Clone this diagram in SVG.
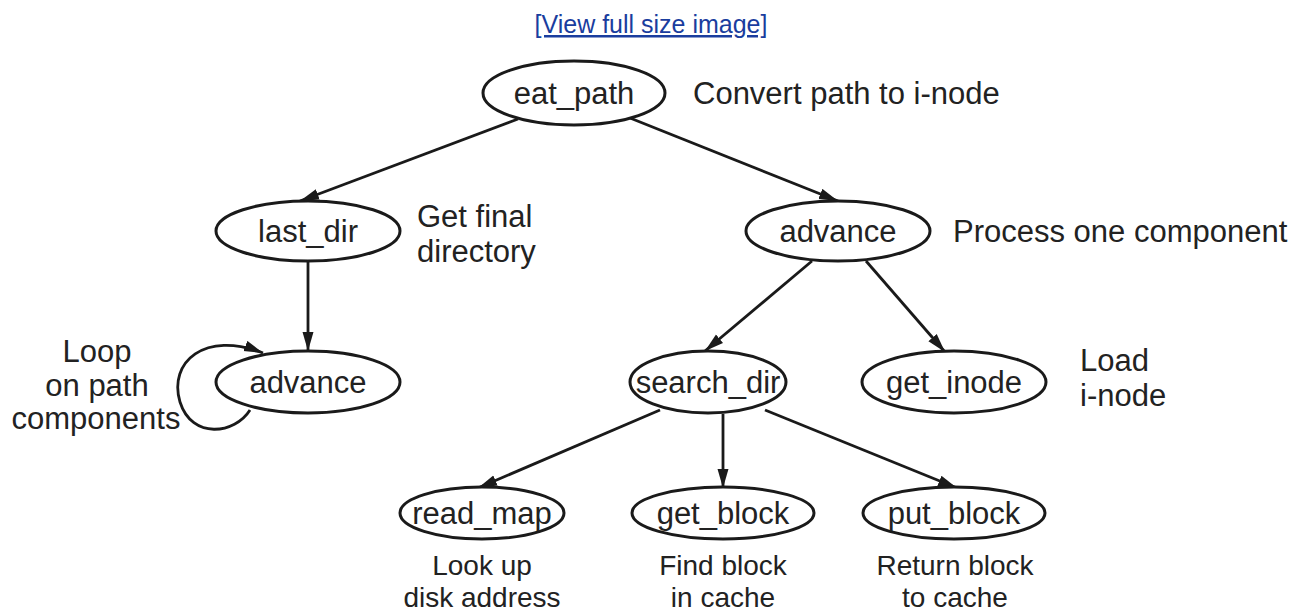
<svg xmlns="http://www.w3.org/2000/svg" width="1293" height="614" viewBox="0 0 1293 614">
  <defs>
    <marker id="arr" markerUnits="userSpaceOnUse" markerWidth="20" markerHeight="12" refX="19" refY="6" orient="auto">
      <path d="M0,0.5 L19,6 L0,11.5 z" fill="#1a1a1a"/>
    </marker>
    <style>
      .n ellipse { fill: #fff; stroke: #1a1a1a; stroke-width: 3; }
      text { font-family: "Liberation Sans", Arial, sans-serif; font-size: 31px; fill: #222; }
      .c { text-anchor: middle; }
      .s { font-size: 28px; }
      .e { fill: none; stroke: #1a1a1a; stroke-width: 2.8; marker-end: url(#arr); }
      .link { font-size: 25px; fill: #1a3d9e; text-decoration: underline; }
    </style>
  </defs>
  <rect width="1293" height="614" fill="#fff"/>
  <text class="link c" x="651" y="33">[View full size image]</text>

  <g id="connectors">
    <path class="e" d="M518,119 L300,201"/>
    <path class="e" d="M630,118 L838,201"/>
    <path class="e" d="M308,262 L308,351"/>
    <path class="e" d="M250,410 C235,434 192,440 180,402 C168,362 205,330 263,353"/>
    <path class="e" d="M812,261 L705,351"/>
    <path class="e" d="M866,261 L945,352"/>
    <path class="e" d="M660,410 L478,488"/>
    <path class="e" d="M723,414 L723,488"/>
    <path class="e" d="M765,410 L957,488"/>
  </g>

  <g id="eat_path" class="n">
    <ellipse cx="574" cy="93" rx="91" ry="32"/>
    <text class="c" x="574" y="104">eat_path</text>
  </g>
  <text x="693" y="104">Convert path to i-node</text>

  <g id="last_dir" class="n">
    <ellipse cx="308" cy="231" rx="92" ry="30"/>
    <text class="c" x="308" y="242">last_dir</text>
  </g>
  <text x="417" y="227">Get final</text>
  <text x="417" y="262">directory</text>

  <g id="advance_right" class="n">
    <ellipse cx="838" cy="231" rx="92" ry="30"/>
    <text class="c" x="838" y="242">advance</text>
  </g>
  <text x="953" y="242">Process one component</text>

  <g id="advance_left" class="n">
    <ellipse cx="308" cy="382" rx="92" ry="31"/>
    <text class="c" x="308" y="393">advance</text>
  </g>
  <text class="c" x="97" y="362">Loop</text>
  <text class="c" x="97" y="396">on path</text>
  <text class="c" x="96" y="429">components</text>

  <g id="search_dir" class="n">
    <ellipse cx="708" cy="382" rx="78" ry="31"/>
    <text class="c" x="708" y="393">search_dir</text>
  </g>

  <g id="get_inode" class="n">
    <ellipse cx="954" cy="382" rx="92" ry="31"/>
    <text class="c" x="954" y="393">get_inode</text>
  </g>
  <text x="1080" y="371">Load</text>
  <text x="1080" y="406">i-node</text>

  <g id="read_map" class="n">
    <ellipse cx="482" cy="513" rx="82" ry="26"/>
    <text class="c" x="482" y="524">read_map</text>
  </g>
  <text class="c s" x="482" y="575">Look up</text>
  <text class="c s" x="482" y="607">disk address</text>

  <g id="get_block" class="n">
    <ellipse cx="723" cy="513" rx="91" ry="26"/>
    <text class="c" x="723" y="524">get_block</text>
  </g>
  <text class="c s" x="723" y="575">Find block</text>
  <text class="c s" x="723" y="607">in cache</text>

  <g id="put_block" class="n">
    <ellipse cx="954" cy="513" rx="91" ry="26"/>
    <text class="c" x="954" y="524">put_block</text>
  </g>
  <text class="c s" x="955" y="575">Return block</text>
  <text class="c s" x="955" y="607">to cache</text>
</svg>
